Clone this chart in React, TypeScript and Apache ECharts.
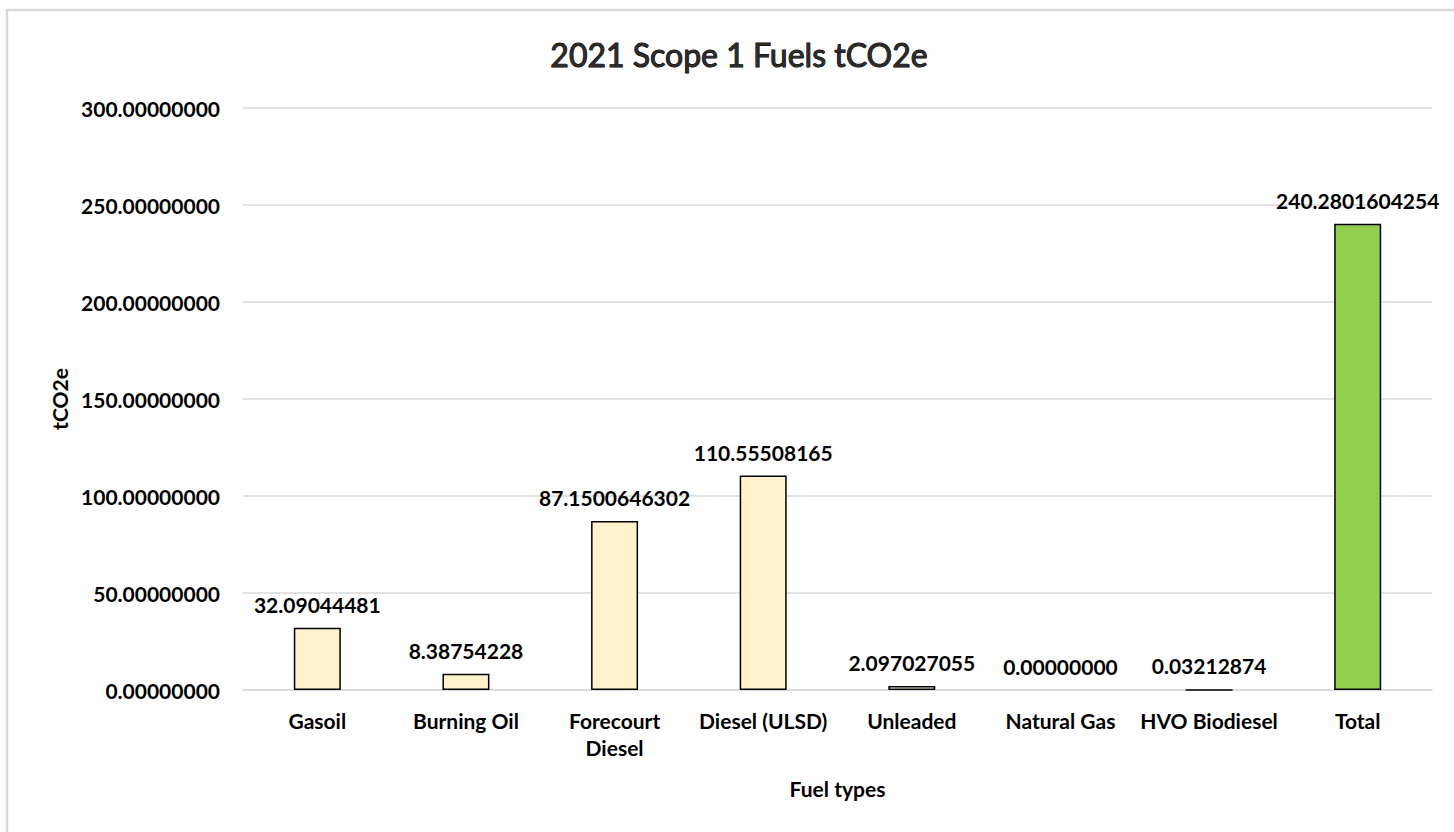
import React, { useEffect, useRef } from "react";
import * as echarts from "echarts";

const categories = [
  "Gasoil",
  "Burning Oil",
  "Forecourt\nDiesel",
  "Diesel (ULSD)",
  "Unleaded",
  "Natural Gas",
  "HVO Biodiesel",
  "Total",
];
const values = [32.09044481, 8.38754228, 87.1500646302, 110.55508165, 2.097027055, 0, 0.03212874, 240.2801604254];
const labelTexts = [
  "32.09044481",
  "8.38754228",
  "87.1500646302",
  "110.55508165",
  "2.097027055",
  "0.00000000",
  "0.03212874",
  "240.2801604254",
];
const yMin = 0;
const yMax = 300;
const yStep = 50;

const FONT = "Lato, 'Open Sans', 'Noto Sans', sans-serif";

export default function App() {
  const ref = useRef<HTMLDivElement>(null);
  useEffect(() => {
    if (!ref.current) return;
    const chart = echarts.init(ref.current, undefined, { renderer: "svg" });
    const data = values.map((v, i) => ({
      value: v,
      itemStyle: {
        color: i === values.length - 1 ? "#92D050" : "#FFF2CC",
        borderColor: "#000",
        borderWidth: v === 0 ? 0 : 1.5,
      },
    }));
    chart.setOption({
      animation: false,
      backgroundColor: "#fff",
      textStyle: { fontFamily: FONT },
      graphic: [
        {
          type: "rect",
          shape: { x: 7, y: 10, width: 1500, height: 900 },
          style: { fill: "none", stroke: "#D9D9D9", lineWidth: 2.5 },
          silent: true,
          z: -1,
        },
      ],
      title: {
        text: "2021 Scope 1 Fuels tCO2e",
        left: 734,
        textAlign: "center",
        top: 33,
        textStyle: {
          fontFamily: FONT,
          fontSize: 32,
          fontWeight: "normal",
          color: "#2a2a2a",
          textBorderColor: "#000",
          textBorderWidth: 1,
        },
      },
      grid: { left: 243, right: 22, top: 108, bottom: 142, containLabel: false },
      xAxis: {
        type: "category",
        data: categories,
        name: "Fuel types",
        nameLocation: "middle",
        nameGap: 88,
        nameTextStyle: { fontFamily: FONT, fontSize: 21, fontWeight: "bold", color: "#000" },
        axisLine: { show: true, lineStyle: { color: "#D9D9D9", width: 1.5 } },
        axisTick: { show: false },
        axisLabel: {
          fontFamily: FONT,
          fontSize: 21,
          fontWeight: "bold",
          color: "#000",
          margin: 17,
          lineHeight: 27,
          interval: 0,
        },
      },
      yAxis: {
        type: "value",
        min: yMin,
        max: yMax,
        interval: yStep,
        name: "tCO2e",
        nameLocation: "middle",
        nameGap: 172,
        nameRotate: 90,
        nameTextStyle: { fontFamily: FONT, fontSize: 21, fontWeight: "bold", color: "#000" },
        axisLine: { show: false },
        axisTick: { show: false },
        splitLine: { lineStyle: { color: "#D9D9D9", width: 1.5 } },
        axisLabel: {
          fontFamily: FONT,
          fontSize: 21,
          fontWeight: "bold",
          color: "#000",
          margin: 23,
          formatter: (v: number) => v.toFixed(8),
        },
      },
      series: [
        {
          type: "bar",
          data,
          barWidth: 47,
          label: {
            show: true,
            position: "top",
            distance: 13,
            fontFamily: FONT,
            fontSize: 21,
            fontWeight: "bold",
            color: "#000",
            formatter: (p: any) => labelTexts[p.dataIndex],
          },
        },
      ],
    });
    return () => chart.dispose();
  }, []);
  return (
    <div
      ref={ref}
      style={{ position: "fixed", left: 0, top: 0, width: 1454, height: 832 }}
    />
  );
}
